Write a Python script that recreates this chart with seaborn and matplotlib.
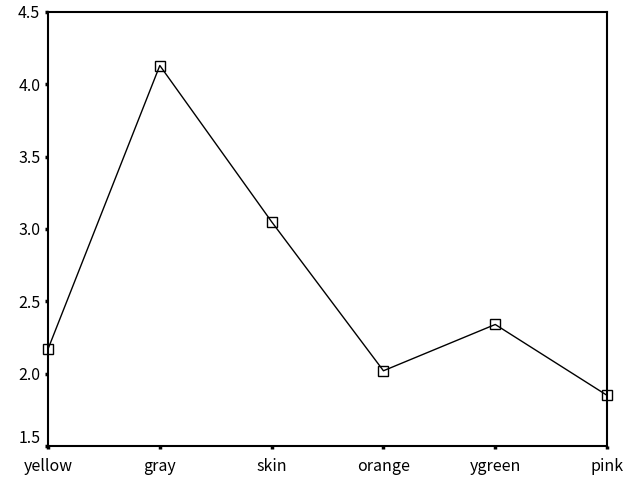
import matplotlib
matplotlib.use("Agg")
import matplotlib.pyplot as plt
import matplotlib.transforms as mtransforms
import seaborn as sns
import pandas as pd

colors = ["yellow", "gray", "skin", "orange", "ygreen", "pink"]
means = [2.17, 4.13, 3.05, 2.02, 2.34, 1.85]
y_ticks = [1.5, 2.0, 2.5, 3.0, 3.5, 4.0, 4.5]

sns.set_theme(style="white")
plt.rcParams["font.family"] = ["Noto Sans CJK JP", "DejaVu Sans"]

df = pd.DataFrame({"color": colors, "mean": means})
df["pos"] = range(len(colors))

fig = plt.figure(figsize=(6.35, 4.79), dpi=100)
ax = fig.add_axes([0.0756, 0.0689, 0.8804, 0.9061])

sns.lineplot(data=df, x="pos", y="mean", ax=ax, color="black", linewidth=1.0,
             marker="s", markersize=6.5, markerfacecolor="none",
             markeredgecolor="black", markeredgewidth=1.0)
for ln in ax.lines:
    ln.set_clip_on(False)
    ln.set_zorder(5)

ax.set_xlim(0, len(colors) - 1)
ax.set_ylim(1.5, 4.5)
ax.set_xticks(df["pos"])
ax.set_xticklabels(colors)
ax.set_yticks(y_ticks)
ax.set_yticklabels([f"{v:.1f}" for v in y_ticks])
ax.set_xlabel("")
ax.set_ylabel("")

for s in ax.spines.values():
    s.set_visible(True)
    s.set_color("black")
    s.set_linewidth(1.5)

ax.tick_params(axis="both", which="both", direction="out", length=2.5, width=2.5,
               color="black", labelsize=11.5, labelcolor="black", pad=3,
               left=True, bottom=True, top=False, right=False)
ax.tick_params(axis="x", pad=6)
ax.grid(False)

# lift the bottom y label so it clears the x axis
lift = mtransforms.ScaledTranslation(0, 7 / 72, fig.dpi_scale_trans)
ylabels = ax.get_yticklabels()
ylabels[0].set_transform(ylabels[0].get_transform() + lift)

fig.savefig("out.png", dpi=100)
